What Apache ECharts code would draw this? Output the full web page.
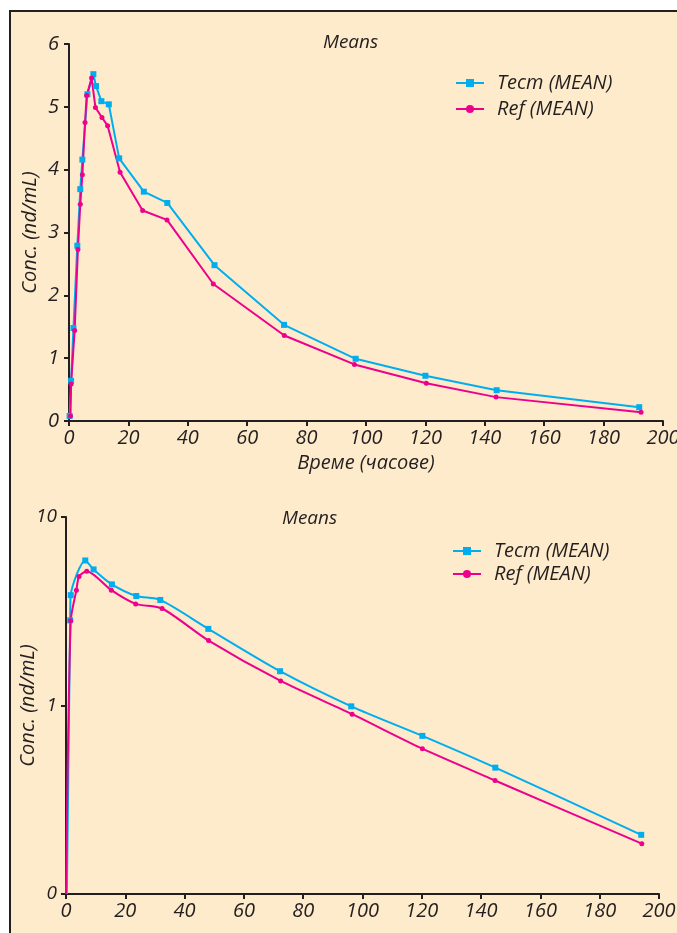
<!DOCTYPE html>
<html>
<head>
<meta charset="utf-8">
<script src="https://cdn.jsdelivr.net/npm/echarts@6/dist/echarts.min.js"></script>
<style>
  html, body { margin: 0; padding: 0; background: #ffffff; }
  #frame {
    position: absolute; left: 9px; top: 10px; width: 700px; height: 960px;
    background: #fdebcb; border-left: 2px solid #231f20; border-top: 2px solid #231f20;
  }
  #chart { position: absolute; left: 0; top: 0; width: 677px; height: 933px; }
</style>
</head>
<body>
<div id="frame"></div>
<div id="chart"></div>
<script>
// top panel (linear), [hours, conc]
const testLinear = [
  [0.2, 0.08], [0.7, 0.64], [1.5, 1.48], [2.8, 2.79], [3.8, 3.69], [4.5, 4.16],
  [6.2, 5.2], [8.2, 5.52], [9.1, 5.33], [10.9, 5.09], [13.4, 5.04], [16.9, 4.18],
  [25.2, 3.65], [33.1, 3.47], [49, 2.48], [72.4, 1.53], [96.5, 0.99],
  [120, 0.72], [144, 0.49], [192, 0.22]
];
const refLinear = [
  [0.5, 0.08], [0.7, 0.59], [1.9, 1.44], [3.0, 2.73], [3.8, 3.45], [4.5, 3.92],
  [5.4, 4.75], [5.95, 5.18], [7.6, 5.46], [8.9, 4.99], [11.1, 4.83], [13, 4.7],
  [17.2, 3.96], [24.8, 3.35], [33, 3.2], [48.6, 2.18], [72.5, 1.36], [96.1, 0.9],
  [120.3, 0.6], [143.8, 0.38], [192.6, 0.14]
];
// bottom panel (log); first point sits on the axis floor
const testLog = [
  [0.3, 0.1], [1.4, 2.83], [1.6, 3.85], [6.5, 5.88], [9.3, 5.27], [15.5, 4.39],
  [23.7, 3.81], [31.8, 3.63], [48, 2.55], [72.2, 1.52], [96.2, 0.99],
  [120.2, 0.69], [144.8, 0.468], [194, 0.206]
];
const refLog = [
  [0, 0.1], [1.6, 2.82], [3.5, 4.09], [4.4, 4.84], [7, 5.16], [15.3, 4.09],
  [23.5, 3.46], [32.4, 3.27], [48.1, 2.21], [72.4, 1.35], [96.5, 0.9],
  [120.2, 0.59], [144.7, 0.4], [194.2, 0.185]
];
const seriesNames = ['Тест (MEAN)', 'Ref (MEAN)'];
const xTitle = 'Време (часове)';
const yTitle = 'Conc. (nd/mL)';
const panelTitle = 'Means';

const ink = '#231f20';
const blue = '#00aeef';
const pink = '#ec008c';
const font = '"Open Sans", "Noto Sans", sans-serif';

const txt = (size) => ({ color: ink, fontFamily: font, fontStyle: 'italic', fontSize: size });

// hide the marker on the floor point of the log panel
const noFirstMarker = (arr) => arr.map((p, i) => (i === 0 ? { value: p, symbol: 'none' } : p));

const xAxisBase = {
  type: 'value', min: 0, max: 200, interval: 20,
  axisLine: { lineStyle: { color: ink, width: 2 } },
  axisTick: { length: 5, lineStyle: { color: ink, width: 2 } },
  axisLabel: Object.assign({ margin: 7 }, txt(20)),
  splitLine: { show: false }
};

const yAxisBase = {
  axisLine: { show: true, lineStyle: { color: ink, width: 2 } },
  axisTick: { show: true, length: 5, lineStyle: { color: ink, width: 2 } },
  name: yTitle, nameLocation: 'middle', nameMoveOverlap: false, nameTextStyle: txt(20),
  splitLine: { show: false }
};

const legendBase = {
  data: [seriesNames[0], seriesNames[1]], orient: 'vertical',
  itemWidth: 28, itemHeight: 10, textStyle: Object.assign({ padding: [0, 0, 0, 8] }, txt(20))
};

const chart = echarts.init(document.getElementById('chart'));
chart.setOption({
  animation: false,
  backgroundColor: 'transparent',
  title: [
    { text: panelTitle, left: 318, top: 28, textStyle: Object.assign({ fontWeight: 'normal' }, txt(19)) },
    { text: panelTitle, left: 277, top: 504, textStyle: Object.assign({ fontWeight: 'normal' }, txt(19)) }
  ],
  legend: [
    Object.assign({ left: 450, top: 68, itemGap: 6 }, legendBase),
    Object.assign({ left: 447, top: 536, itemGap: 3 }, legendBase)
  ],
  grid: [
    { left: 69, right: 14, top: 44, bottom: 512, outerBoundsMode: 'none', containLabel: false },
    { left: 66, right: 18, top: 517, bottom: 39, outerBoundsMode: 'none', containLabel: false }
  ],
  xAxis: [
    Object.assign({ gridIndex: 0, name: xTitle, nameLocation: 'middle', nameGap: 32,
      nameMoveOverlap: false, nameTextStyle: txt(20) }, xAxisBase),
    Object.assign({ gridIndex: 1 }, xAxisBase)
  ],
  yAxis: [
    Object.assign({
      gridIndex: 0, type: 'value', min: 0, max: 6, interval: 1, nameGap: 29,
      axisLabel: Object.assign({ margin: 10 }, txt(20))
    }, yAxisBase),
    Object.assign({
      gridIndex: 1, type: 'log', logBase: 10, min: 0.1, max: 10, minorTick: { show: false }, nameGap: 28,
      axisLabel: Object.assign({ margin: 9, formatter: (v) => (v < 1 ? '0' : String(Math.round(v))) }, txt(19))
    }, yAxisBase)
  ],
  series: [
    {
      name: seriesNames[0], type: 'line', xAxisIndex: 0, yAxisIndex: 0, data: testLinear,
      symbol: 'rect', symbolSize: 6, itemStyle: { color: blue }, lineStyle: { color: blue, width: 2 }
    },
    {
      name: seriesNames[1], type: 'line', xAxisIndex: 0, yAxisIndex: 0, data: refLinear,
      symbol: 'circle', symbolSize: 5, itemStyle: { color: pink }, lineStyle: { color: pink, width: 2 }
    },
    {
      name: seriesNames[0], type: 'line', xAxisIndex: 1, yAxisIndex: 1, data: noFirstMarker(testLog), smooth: 0.25,
      symbol: 'rect', symbolSize: 6, itemStyle: { color: blue }, lineStyle: { color: blue, width: 2 }
    },
    {
      name: seriesNames[1], type: 'line', xAxisIndex: 1, yAxisIndex: 1, data: noFirstMarker(refLog), smooth: 0.25,
      symbol: 'circle', symbolSize: 5, itemStyle: { color: pink }, lineStyle: { color: pink, width: 2 }
    }
  ]
});
</script>
</body>
</html>
